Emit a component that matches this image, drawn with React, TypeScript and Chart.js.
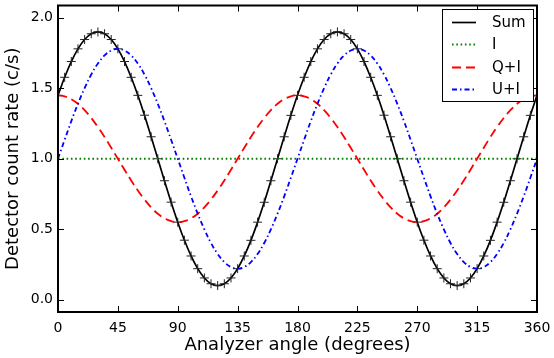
import React, { useEffect, useRef } from "react";
import { Chart, registerables } from "chart.js";

Chart.register(...registerables);

const angles = [0,5,10,15,20,25,30,35,40,45,50,55,60,65,70,75,80,85,90,95,100,105,110,115,120,125,130,135,140,145,150,155,160,165,170,175,180,185,190,195,200,205,210,215,220,225,230,235,240,245,250,255,260,265,270,275,280,285,290,295,300,305,310,315,320,325,330,335,340,345,350,355,360];
const sumValues = [1.45,1.578,1.69,1.78,1.846,1.887,1.9,1.887,1.846,1.78,1.69,1.578,1.45,1.309,1.156,1.0,0.844,0.692,0.55,0.422,0.31,0.22,0.154,0.113,0.1,0.113,0.154,0.22,0.31,0.421,0.55,0.691,0.844,1.0,1.156,1.308,1.45,1.578,1.69,1.78,1.846,1.887,1.9,1.887,1.846,1.78,1.69,1.578,1.45,1.309,1.156,1.0,0.844,0.692,0.55,0.422,0.31,0.22,0.154,0.113,0.1,0.113,0.154,0.22,0.31,0.421,0.55,0.691,0.844,1.0,1.156,1.308,1.45];
const qiValues = [1.45,1.443,1.423,1.39,1.345,1.289,1.225,1.154,1.078,1.0,0.922,0.846,0.775,0.711,0.655,0.61,0.577,0.557,0.55,0.557,0.577,0.61,0.655,0.711,0.775,0.846,0.922,1.0,1.078,1.154,1.225,1.289,1.345,1.39,1.423,1.443,1.45,1.443,1.423,1.39,1.345,1.289,1.225,1.154,1.078,1.0,0.922,0.846,0.775,0.711,0.655,0.61,0.577,0.557,0.55,0.557,0.577,0.61,0.655,0.711,0.775,0.846,0.922,1.0,1.078,1.154,1.225,1.289,1.345,1.39,1.423,1.443,1.45];
const uiValues = [1.0,1.135,1.267,1.39,1.501,1.598,1.676,1.733,1.768,1.78,1.768,1.733,1.676,1.598,1.501,1.39,1.267,1.135,1.0,0.865,0.733,0.61,0.499,0.402,0.324,0.267,0.232,0.22,0.232,0.267,0.324,0.402,0.499,0.61,0.733,0.865,1.0,1.135,1.267,1.39,1.501,1.598,1.676,1.733,1.768,1.78,1.768,1.733,1.676,1.598,1.501,1.39,1.267,1.135,1.0,0.865,0.733,0.61,0.499,0.402,0.324,0.267,0.232,0.22,0.232,0.267,0.324,0.402,0.499,0.61,0.733,0.865,1.0];
const iAngles = [0, 360];
const iValues = [1.0, 1.0];
const seriesLabels = ["Sum", "I", "Q+I", "U+I"];
const xTicks = [0, 45, 90, 135, 180, 225, 270, 315, 360];
const yTicks = [0.0, 0.5, 1.0, 1.5, 2.0];

const FONT = "'DejaVu Sans', sans-serif";

const framePlugin = {
  id: "frameTicks",
  afterDatasetsDraw(chart: any) {
    const { ctx, chartArea: a, scales } = chart;
    ctx.save();
    ctx.strokeStyle = "#000";
    ctx.lineWidth = 1;
    const tl = 6;
    ctx.beginPath();
    for (const v of xTicks) {
      const x = Math.round(scales.x.getPixelForValue(v)) + 0.5;
      ctx.moveTo(x, a.bottom); ctx.lineTo(x, a.bottom - tl);
      ctx.moveTo(x, a.top); ctx.lineTo(x, a.top + tl);
    }
    for (const v of yTicks) {
      const y = Math.round(scales.y.getPixelForValue(v)) + 0.5;
      ctx.moveTo(a.left, y); ctx.lineTo(a.left + tl, y);
      ctx.moveTo(a.right, y); ctx.lineTo(a.right - tl, y);
    }
    ctx.stroke();
    ctx.lineWidth = 2;
    ctx.strokeRect(a.left, a.top, a.right - a.left, a.bottom - a.top);

    // legend
    const lx = 442, ly = 9, lw = 91, lh = 92;
    ctx.fillStyle = "#fff";
    ctx.fillRect(lx, ly, lw, lh);
    ctx.lineWidth = 1;
    ctx.strokeRect(lx + 0.5, ly + 0.5, lw, lh);
    const rows = [22, 44, 67, 89];
    chart.data.datasets.forEach((ds: any, i: number) => {
      const y = rows[i] + 0.5;
      ctx.save();
      ctx.strokeStyle = ds.borderColor;
      ctx.lineWidth = ds.borderWidth;
      ctx.setLineDash(ds.borderDash || []);
      ctx.beginPath();
      ctx.moveTo(452, y);
      ctx.lineTo(476, y);
      ctx.stroke();
      ctx.restore();
      ctx.fillStyle = "#000";
      ctx.font = "15px " + FONT;
      ctx.textBaseline = "middle";
      ctx.textAlign = "left";
      ctx.fillText(ds.label, 492, rows[i] + 1);
    });
    ctx.restore();
  },
};

export default function App() {
  const ref = useRef<HTMLCanvasElement>(null);
  useEffect(() => {
    document.body.style.margin = "0";
    const toPts = (xs: number[], ys: number[]) => xs.map((x, i) => ({ x, y: ys[i] }));
    const chart = new Chart(ref.current!, {
      type: "line",
      data: {
        datasets: [
          {
            label: seriesLabels[0],
            data: toPts(angles, sumValues),
            borderColor: "#000",
            borderWidth: 1.7,
            pointStyle: "cross",
            pointRadius: 4.5,
            pointBorderColor: "#222",
            pointBorderWidth: 1,
            tension: 0.4,
            order: 4,
          },
          {
            label: seriesLabels[1],
            data: toPts(iAngles, iValues),
            borderColor: "#008000",
            borderWidth: 1.8,
            borderDash: [1.6, 2.7],
            pointRadius: 0,
            order: 3,
          },
          {
            label: seriesLabels[2],
            data: toPts(angles, qiValues),
            borderColor: "#ff0000",
            borderWidth: 1.8,
            borderDash: [9, 5],
            pointRadius: 0,
            tension: 0.4,
            order: 2,
          },
          {
            label: seriesLabels[3],
            data: toPts(angles, uiValues),
            borderColor: "#0000ff",
            borderWidth: 1.8,
            borderDash: [5, 3, 1.5, 3],
            pointRadius: 0,
            tension: 0.4,
            order: 1,
          },
        ],
      },
      options: {
        animation: false,
        responsive: false,
        devicePixelRatio: 1,
        layout: { padding: { top: 2, right: 17, left: 0, bottom: 0 } },
        plugins: { legend: { display: false }, tooltip: { enabled: false } },
        scales: {
          x: {
            type: "linear",
            min: 0,
            max: 360,
            afterFit: (s: any) => { s.height = 46; s.paddingLeft = 0; s.paddingRight = 0; },
            grid: { display: false, drawTicks: false },
            border: { display: false },
            ticks: {
              stepSize: 45,
              padding: 8,
              color: "#000",
              font: { family: FONT, size: 14 },
              maxRotation: 0,
            },
            title: {
              display: true,
              text: "Analyzer angle (degrees)",
              color: "#000",
              font: { family: FONT, size: 18 },
              padding: { top: 0, bottom: 2 },
            },
          },
          y: {
            type: "linear",
            min: -0.0875,
            max: 2.0875,
            afterFit: (s: any) => { s.width = 58; s.paddingTop = 0; s.paddingBottom = 0; },
            grid: { display: false, drawTicks: false },
            border: { display: false },
            afterBuildTicks: (s: any) => { s.ticks = yTicks.map((v) => ({ value: v })); },
            ticks: {
              padding: 5,
              color: "#000",
              font: { family: FONT, size: 14 },
              callback: (v: any) => Number(v).toFixed(1),
            },
            title: {
              display: true,
              text: "Detector count rate (c/s)",
              color: "#000",
              font: { family: FONT, size: 18 },
              padding: { top: 3, bottom: 0 },
            },
          },
        },
      },
      plugins: [framePlugin],
    });
    return () => chart.destroy();
  }, []);
  return (
    <div style={{ position: "absolute", left: 0, top: 0, width: 554, height: 358, background: "#fff" }}>
      <canvas ref={ref} width={554} height={358} />
    </div>
  );
}
